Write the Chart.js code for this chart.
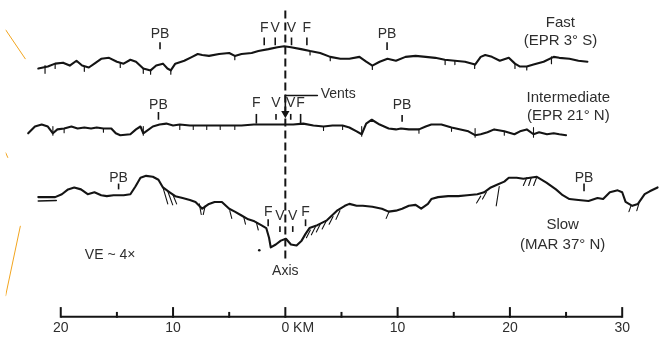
<!DOCTYPE html>
<html><head><meta charset="utf-8">
<script src="https://cdn.jsdelivr.net/npm/chart.js@4/dist/chart.umd.min.js"></script>
<style>html,body{margin:0;padding:0;background:#fff}#wrap{width:669px;height:342px;position:relative}</style>
</head><body><div id="wrap"><canvas id="c" width="669" height="342"></canvas></div>
<script>
// ---------------- DATA (distance in km from axis, relief in m, + = deeper) ----------------
const fastKm = [-22.0,-21.15,-20.5,-19.8,-19.2,-18.6,-18.1,-17.5,-17.0,-16.4,-15.7,-15.0,-14.4,-13.8,-13.3,-12.65,-12.0,-11.5,-10.9,-10.5,-10.2,-9.8,-9.0,-8.3,-7.8,-7.4,-6.8,-5.9,-5.0,-4.5,-3.9,-3.0,-2.4,-1.5,-0.7,-0.1,0.5,1.4,2.2,3.1,4.0,4.9,5.7,6.6,7.2,7.75,8.4,9.1,9.85,10.7,11.6,12.5,13.35,14.2,15.1,16.0,16.9,17.4,17.8,18.4,19.1,19.9,20.45,20.9,21.5,22.1,23.0,23.9,24.4,25.3,26.1,26.9];
const fastRelief = [400,360,300,280,340,240,340,380,300,200,180,260,300,220,260,400,440,340,300,400,440,300,240,160,100,120,140,100,80,140,100,80,40,0,-40,-60,-40,0,40,80,160,200,200,160,260,340,260,200,240,160,140,160,180,220,240,260,320,160,120,160,240,180,300,360,360,320,260,160,180,200,240,260];

const intKm = [-22.9,-22.3,-21.7,-21.15,-20.7,-20.3,-19.7,-19.05,-18.5,-17.9,-17.3,-16.8,-16.2,-15.5,-15.1,-14.7,-13.8,-13.3,-12.9,-12.65,-12.4,-11.8,-11.2,-10.6,-10.0,-9.4,-8.5,-7.4,-6.3,-5.0,-3.9,-2.8,-1.5,-0.4,0.7,1.6,2.5,3.4,4.2,5.1,5.7,6.35,6.8,7.2,7.7,8.4,9.2,9.85,10.3,11.0,11.9,12.5,13.0,13.9,14.8,15.6,16.3,16.9,17.4,18.0,18.6,19.5,20.4,20.9,21.5,22.1,22.6,23.3,23.9,24.4,25.0];
const intRelief = [140,0,-40,0,140,60,40,0,40,20,40,20,40,40,140,180,160,60,0,140,100,0,-40,-60,-20,-40,-20,-20,-20,-20,-20,-40,-40,-40,-40,-60,-20,0,-20,-20,20,100,160,-60,-140,-40,40,60,40,60,60,0,-40,-40,20,60,100,180,160,120,60,100,160,100,60,160,120,160,140,160,180];

const slowKm = [-22.0,-20.5,-19.9,-19.35,-18.8,-18.2,-17.6,-17.0,-16.4,-15.9,-15.3,-14.4,-13.8,-13.35,-12.9,-12.4,-11.8,-11.3,-10.9,-10.3,-9.8,-9.15,-8.5,-8.0,-7.4,-6.8,-6.3,-5.65,-5.0,-4.5,-3.9,-3.3,-2.75,-2.15,-1.7,-1.45,-1.3,-0.85,-0.4,0.05,0.5,1.0,1.45,1.8,2.15,2.85,3.7,4.6,5.3,5.7,6.35,6.9,7.75,8.6,9.2,9.85,10.4,11.0,11.6,12.1,12.7,13.0,13.6,14.5,15.4,16.2,17.1,17.7,18.3,18.9,19.5,19.9,20.6,21.2,21.8,22.4,23.25,24.1,24.7,25.3,26.1,27.0,27.8,28.3,28.9,29.6,30.0,30.3,30.9,31.4,32.0,32.45,33.15];
const slowRelief = [-40,-40,-100,-200,-240,-200,-100,-140,-80,-60,-80,-80,-100,-260,-440,-480,-460,-400,-240,-140,-60,-20,20,60,200,100,60,60,200,260,340,420,460,540,600,800,1000,940,860,820,940,960,860,720,600,540,440,240,140,100,140,140,160,200,260,240,200,140,120,200,100,0,-40,-60,-60,-80,-100,-140,-240,-300,-360,-440,-440,-420,-440,-460,-340,-200,-80,0,20,40,-20,0,-140,-180,-140,60,140,100,-100,-160,-240];
const slowLowerKm = [-22.0,-20.4];
const slowLowerRelief = [40,30];

// fault-scarp hatches: [km start, relief start, km end, relief end]
const fastScarps = [[-21.4,340,-21.4,500],[-20.5,300,-20.5,400],[-17.9,360,-17.9,460],[-14.7,280,-14.7,380],[-12.65,400,-12.65,500],[-12.0,440,-12.0,520],[-10.2,440,-10.2,520],[-4.5,140,-4.5,220],[2.2,40,2.2,120],[4.0,160,4.0,240],[7.75,340,7.75,420],[14.23,220,14.23,320],[15.1,240,15.1,320],[16.86,320,16.86,400],[20.45,300,20.45,400],[21.5,360,21.5,430],[23.7,160,23.7,300]];
const intScarps = [[-20.7,0,-20.7,180],[-19.7,40,-19.7,130],[-16.2,40,-16.2,120],[-12.65,0,-12.65,180],[-9.4,-40,-9.4,60],[-8.2,-20,-8.2,60],[-7.0,-20,-7.0,60],[-5.8,-20,-5.8,60],[-4.5,-20,-4.5,60],[3.4,0,3.4,80],[5.1,-20,5.1,60],[6.8,0,6.8,200],[11.9,60,11.9,140],[14.8,20,14.8,100],[16.9,40,16.9,220],[19.5,100,19.5,180],[22.1,20,22.1,220]];
const slowScarps = [[-10.9,-240,-10.47,100],[-10.47,-160,-10.03,120],[-10.03,-100,-9.68,100],[-7.66,100,-7.49,320],[-7.14,140,-7.31,320],[-4.95,240,-4.77,400],[-3.72,360,-3.55,520],[-2.58,480,-2.41,640],[2.23,640,1.88,800],[2.67,580,2.32,740],[3.11,520,2.76,680],[3.63,460,3.28,620],[4.25,360,3.9,520],[4.86,240,4.51,420],[9.24,260,8.98,400],[17.4,-60,17.03,80],[17.9,-140,17.56,0],[19.05,-260,18.78,140],[21.5,-440,21.2,-280],[21.9,-440,21.67,-280],[22.37,-440,22.11,-280],[30.78,140,30.6,260],[31.48,100,31.3,240]];

// feature markers (PB = plate boundary, F = fault, V = vent)
const markerRow  = ['fast','fast','fast','fast','fast','fast', 'int','int','int','int','int','int', 'slow','slow','slow','slow','slow','slow'];
const markerText = ['PB','F','V','V','F','PB', 'PB','F','V','V','F','PB', 'PB','F','V','V','F','PB'];
const markerKm   = [-11.16,-1.88,-0.9,0.55,1.92,9.06, -11.3,-2.58,-0.83,0.48,1.36,10.4, -14.85,-1.53,-0.48,0.66,1.8,26.6];

const rowNames  = ['Fast','Intermediate','Slow'];
const rowSites  = ['(EPR 3° S)','(EPR 21° N)','(MAR 37° N)'];
const axisTickKm = [-20,-15,-10,-5,0,5,10,15,20,25,30];
const axisLabelKm = [-20,-10,0,10,20,30];
const axisLabels = ['20','10','0 KM','10','20','30'];

// ---------------- LAYOUT (display depth units: 20 m per px) ----------------
const rowBase = {fast:900, int:2500, slow:4000};
// per marker: [text offset, tick top, tick bottom] relative to its row base
const markerLayout = [[-300,-140,0],[-440,-240,-80],[-440,-240,-80],[-440,-240,-80],[-440,-240,-80],[-320,-140,20],
  [-440,-300,-140],[-480,-260,-60],[-480,-260,-140],[-480,-260,-140],[-480,-260,-60],[-440,-240,-100],
  [-440,-320,-200],[280,420,560],[360,560,680],[360,560,680],[280,420,560],[-440,-320,-160]];
const rowLabelPos = [[24.5,360,720],[25.2,1900,2280],[24.7,4540,4940]];
const INK = '#141414', TEXT = '#2e2e2e', FONT = '"Liberation Sans", Arial, sans-serif';

function pts(km, rel, base){ return km.map((k,i)=>({x:k, y:base+rel[i]})); }
function segs(list, base){ const out=[]; list.forEach(s=>{ out.push({x:s[0],y:base+s[1]},{x:s[2],y:base+s[3]},{x:s[2],y:null}); }); return out; }

const lineDs = (data, w) => ({data, borderColor:INK, borderWidth:w, pointRadius:0, tension:0, spanGaps:false, borderJoinStyle:'round', borderCapStyle:'round', fill:false});

const datasets = [
  lineDs(pts(fastKm, fastRelief, rowBase.fast), 2.1),
  lineDs(pts(intKm, intRelief, rowBase.int), 2.1),
  lineDs(pts(slowKm, slowRelief, rowBase.slow), 2.1),
  lineDs(pts(slowLowerKm, slowLowerRelief, rowBase.slow), 1.6),
  lineDs(segs(fastScarps, rowBase.fast), 1.2),
  lineDs(segs(intScarps, rowBase.int), 1.1),
  lineDs(segs(slowScarps, rowBase.slow), 1.1),
  // ridge axis (dashed)
  Object.assign(lineDs([{x:0,y:100},{x:0,y:5240}], 2), {borderDash:[8,4], borderCapStyle:'butt'}),
  // vents pointer
  Object.assign(lineDs([{x:2.85,y:1860},{x:0,y:1860},{x:0,y:2230}], 1.6), {pointRadius:[0,0,3.2], pointStyle:'triangle', rotation:180, pointBackgroundColor:INK, pointBorderColor:INK}),
  // stray dot near the slow axial valley
  Object.assign(lineDs([{x:-2.32,y:5060}], 0), {pointRadius:1.3, pointBackgroundColor:INK, pointBorderWidth:0, showLine:false}),
  // orange guide lines at left edge
  Object.assign(lineDs([{x:-24.91,y:500},{x:-23.16,y:1100},{x:-23.16,y:null},{x:-24.91,y:3040},{x:-24.72,y:3140},{x:-24.72,y:null},{x:-23.6,y:4560},{x:-24.91,y:6000}], 1), {borderColor:'#f2a51f'})
];

const annot = {
  id:'annot',
  afterDatasetsDraw(chart){
    const {ctx, scales:{x, y}} = chart;
    ctx.save();
    ctx.fillStyle = TEXT; ctx.strokeStyle = INK;
    ctx.textAlign = 'center'; ctx.textBaseline = 'middle';
    ctx.font = '14px ' + FONT;
    markerText.forEach((t,i)=>{
      const b = rowBase[markerRow[i]], L = markerLayout[i];
      const px = x.getPixelForValue(markerKm[i]);
      ctx.fillText(t, px, y.getPixelForValue(b + L[0]));
      ctx.lineWidth = 1.6;
      ctx.beginPath(); ctx.moveTo(px, y.getPixelForValue(b + L[1])); ctx.lineTo(px, y.getPixelForValue(b + L[2])); ctx.stroke();
    });
    ctx.font = '15px ' + FONT;
    rowNames.forEach((n,i)=>{
      const p = rowLabelPos[i], px = x.getPixelForValue(p[0]);
      ctx.fillText(n, px, y.getPixelForValue(p[1]));
      ctx.fillText(rowSites[i], px, y.getPixelForValue(p[2]));
    });
    ctx.font = '14px ' + FONT;
    ctx.textAlign = 'left';
    ctx.fillText('Vents', x.getPixelForValue(3.15), y.getPixelForValue(1840));
    ctx.textAlign = 'center';
    ctx.fillText('VE ~ 4\u00D7', x.getPixelForValue(-15.6), y.getPixelForValue(5160));
    ctx.fillText('Axis', x.getPixelForValue(0), y.getPixelForValue(5500));
    const yb = y.getPixelForValue(6434);
    ctx.lineWidth = 2;
    ctx.beginPath(); ctx.moveTo(x.getPixelForValue(axisTickKm[0]), yb); ctx.lineTo(x.getPixelForValue(axisTickKm[axisTickKm.length-1]), yb); ctx.stroke();
    axisTickKm.forEach(k=>{
      const px = x.getPixelForValue(k);
      const top = y.getPixelForValue(k % 10 === 0 ? 6234 : 6334);
      ctx.beginPath(); ctx.moveTo(px, yb + 1); ctx.lineTo(px, top); ctx.stroke();
    });
    ctx.font = '14px ' + FONT;
    const yl = y.getPixelForValue(6670);
    axisLabelKm.forEach((k,i)=>{
      const px = x.getPixelForValue(k), t = axisLabels[i];
      if (t.length > 2) { const w0 = ctx.measureText(t.split(' ')[0]).width; ctx.textAlign = 'left'; ctx.fillText(t, px - w0/2, yl); ctx.textAlign = 'center'; }
      else ctx.fillText(t, px, yl);
    });
    ctx.restore();
  }
};

new Chart(document.getElementById('c'), {
  type:'line',
  data:{datasets},
  options:{
    responsive:false, animation:false, devicePixelRatio:1,
    layout:{padding:0},
    plugins:{legend:{display:false}, tooltip:{enabled:false}},
    scales:{
      x:{type:'linear', min:-24.912, max:33.669, display:false},
      y:{type:'linear', min:0, max:6840, reverse:true, display:false}
    }
  },
  plugins:[annot]
});
</script></body></html>
